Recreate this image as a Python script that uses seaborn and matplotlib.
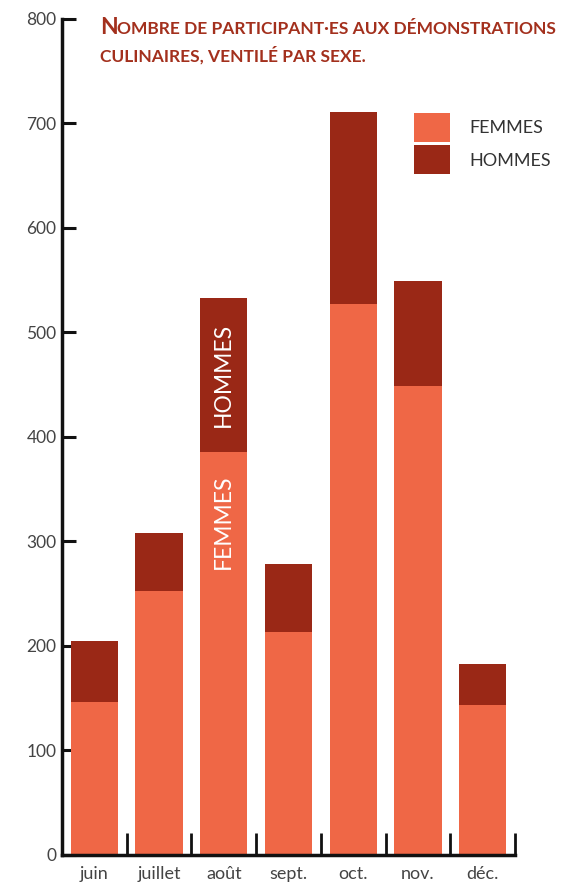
import pandas as pd
import numpy as np
import matplotlib
matplotlib.use('Agg')
import matplotlib.pyplot as plt
import seaborn as sns

# data
mois = ['juin', 'juillet', 'août', 'sept.', 'oct.', 'nov.', 'déc.']
femmes = [146, 253, 386, 213, 527, 449, 144]
hommes = [59, 55, 147, 65, 184, 100, 39]

c_femmes = '#EF6746'
c_hommes = '#9A2816'
c_titre = '#A3301D'

sns.set_style('white', {'ytick.left': True, 'xtick.bottom': True})
plt.rcParams['font.family'] = ['Lato', 'DejaVu Sans']

df = pd.DataFrame({'mois': mois, 'femmes': femmes, 'hommes': hommes})
df['total'] = df['femmes'] + df['hommes']

fig = plt.figure(figsize=(5.75, 8.86), dpi=100)
ax = fig.add_axes([0.1078, 0.035, 0.7879, 0.9436])

# stacked bars: total first (hommes colour), femmes on top of it
sns.barplot(data=df, x='mois', y='total', color=c_hommes, width=0.73,
            saturation=1, ax=ax, label='HOMMES', linewidth=0)
sns.barplot(data=df, x='mois', y='femmes', color=c_femmes, width=0.73,
            saturation=1, ax=ax, label='FEMMES', linewidth=0)

ax.set_xlim(-0.5, len(mois) - 0.5)
ax.set_ylim(0, 800)
ax.set_yticks(range(0, 801, 100))
ax.set_xlabel('')
ax.set_ylabel('')

for s in ['top', 'right']:
    ax.spines[s].set_visible(False)
for s in ['left', 'bottom']:
    ax.spines[s].set_linewidth(2.5)
    ax.spines[s].set_color('#111111')

# y ticks pointing inwards
ax.tick_params(axis='y', which='major', left=True, direction='in',
               length=10, width=2.2, color='#111111')
ax.tick_params(axis='y', labelsize=12.5, labelcolor='#444444', pad=4)

# x ticks at category boundaries, labels at centres
ax.set_xticks(np.arange(len(mois)) + 0.5)
ax.set_xticklabels([])
ax.set_xticks(np.arange(len(mois)), minor=True)
ax.set_xticklabels(mois, minor=True)
ax.tick_params(axis='x', which='major', bottom=True, direction='in',
               length=16, width=2, color='#111111')
ax.tick_params(axis='x', which='minor', bottom=True, length=0, labelsize=13,
               labelcolor='#444444', pad=8)

# labels inside the août bar
i = mois.index('août')
ax.text(i, 319, 'FEMMES', rotation=90, ha='center', va='center',
        color='white', fontsize=16.5)
ax.text(i, femmes[i] + hommes[i] / 2, 'HOMMES', rotation=90, ha='center',
        va='center', color='white', fontsize=16.5)

# legend
h, l = ax.get_legend_handles_labels()
order = [l.index('FEMMES'), l.index('HOMMES')]
leg = ax.legend([h[k] for k in order], [l[k] for k in order],
                loc='upper left', bbox_to_anchor=(0.75, 0.903), frameon=False,
                fontsize=13, handlelength=1.95, handleheight=2.1,
                labelspacing=0.2, handletextpad=1.1, borderpad=0.2)
for t in leg.get_texts():
    t.set_color('#333333')

# small caps title
fig.text(0.174, 0.962, 'N', color=c_titre, fontsize=16.5, fontweight='bold',
         va='baseline')
fig.text(0.2035, 0.962, 'OMBRE DE PARTICIPANT·ES AUX DÉMONSTRATIONS',
         color=c_titre, fontsize=12.5, fontweight='bold', va='baseline')
fig.text(0.174, 0.931, 'CULINAIRES, VENTILÉ PAR SEXE.', color=c_titre,
         fontsize=12.5, fontweight='bold', va='baseline')

fig.savefig('out.png', dpi=100)
